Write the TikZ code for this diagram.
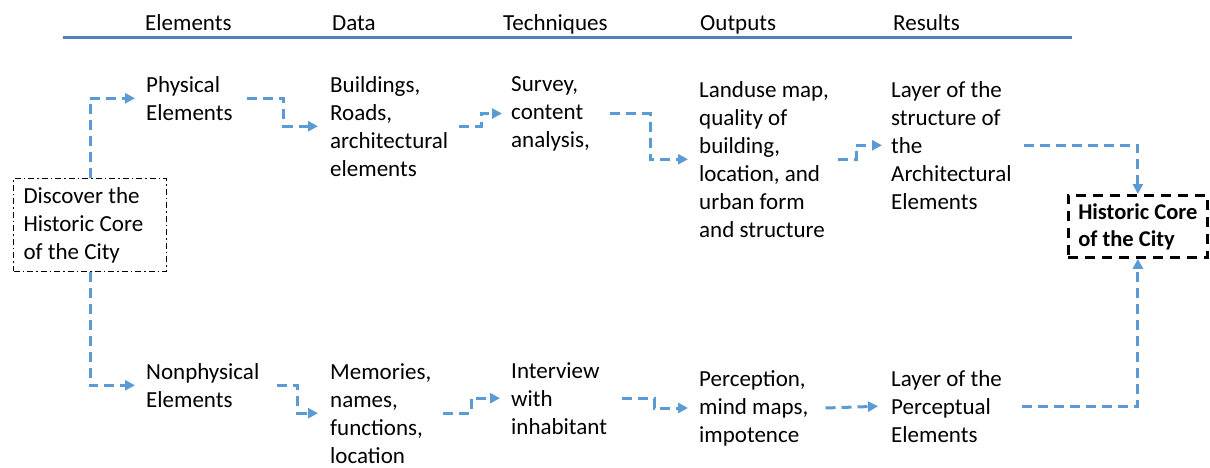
\documentclass[tikz,border=0pt]{standalone}
\usepackage{fontspec}
\setmainfont{Carlito}
\usepackage{xcolor}
\usetikzlibrary{positioning,calc,arrows.meta}
\definecolor{flowblue}{RGB}{91,155,213}
\definecolor{headblue}{RGB}{79,129,189}

\begin{document}
\begin{tikzpicture}[x=1pt,y=-1pt,
    every node/.style={font=\fontsize{23pt}{28pt}\selectfont, inner sep=0pt, align=left, anchor=north west},
    txt/.style={execute at begin node={\rule{0pt}{17pt}}},
    head/.style={anchor=base west},
    flow/.style={flowblue, line width=3pt, dash pattern=on 10pt off 6pt, -{Triangle[length=10pt,width=10pt]}}]
        \useasboundingbox (0,0) rectangle (1210,468);

        % Header
        \node[head] (helem) at (145,31) {Elements};
        \node[head] (hdata) at (332,31) {Data};
        \node[head] (htech) at (503,31) {Techniques};
        \node[head] (hout) at (700,31) {Outputs};
        \node[head] (hres) at (893,31) {Results};
        \coordinate (lineA) at (63,38);
        \coordinate (lineB) at (1072,38);
        \draw[headblue, line width=3pt] (lineA) -- (lineB);

        % Start and goal
        \node[txt, draw, line width=1pt, dash pattern=on 6pt off 3pt on 1.5pt off 3pt,
              inner xsep=10pt, inner ysep=8pt, text width=133pt, align=flush left] (disc) at (13,178)
              {Discover the\\Historic Core\\of the City};
        \node[txt, draw, line width=2.5pt, dash pattern=on 10pt off 7pt,
              inner xsep=10pt, inner ysep=8pt, font=\fontsize{22.5pt}{27pt}\selectfont\bfseries] (hist) at (1067,194)
              {Historic Core\\of the City};

        % Physical row
        \node[txt] (phys) at (146,76) {Physical\\Elements};
        \node[txt] (build) at (330,76) {Buildings,\\Roads,\\architectural\\elements};
        \node[txt] (surv) at (511,76) {Survey,\\content\\analysis,};
        \node[txt] (land) at (699,81) {Landuse map,\\quality of\\building,\\location, and\\urban form\\and structure};
        \node[txt] (layA) at (891,81) {Layer of the\\structure of\\the\\Architectural\\Elements};

        % Nonphysical row
        \node[txt] (nonphys) at (146,363) {Nonphysical\\Elements};
        \node[txt] (mem) at (330,363) {Memories,\\names,\\functions,\\location};
        \node[txt] (intv) at (511,362) {Interview\\with\\inhabitant};
        \node[txt] (perc) at (699,370) {Perception,\\mind maps,\\impotence};
        \node[txt] (layB) at (891,370) {Layer of the\\Perceptual\\Elements};

        % Arrows
        \draw[flow] (disc.north) |- ([xshift=-11pt]phys.west);
        \draw[flow] (disc.south) |- ([xshift=-11pt]nonphys.west);
        \draw[flow] ([xshift=14pt]phys.east) -- ++(37,0) |- ([xshift=-12pt]build.west);
        \draw[flow] ([xshift=11pt]build.east) -- ++(22,0) |- ([xshift=-9pt]surv.west);
        \draw[flow] ([xshift=20pt]surv.east) -- ++(40,0) |- ([xshift=-11pt]land.west);
        \draw[flow] ([xshift=9pt]land.east) -- ++(18,0) |- ([xshift=-9pt]layA.west);
        \draw[flow] ([xshift=12pt]layA.east) -| (hist.north);
        \draw[flow] ([xshift=17pt]nonphys.east) -- ++(21,0) |- ([xshift=-12pt]mem.west);
        \draw[flow] ([xshift=12pt]mem.east) -- ++(28,0) |- ([xshift=-11pt]intv.west);
        \draw[flow] ([xshift=15pt]intv.east) -- ++(32,0) |- ([xshift=-11pt]perc.west);
        \draw[flow] ([xshift=17pt]perc.east) -- ([xshift=-13pt]layB.west);
        \draw[flow] ([xshift=20pt]layB.east) -| (hist.south);
    \end{tikzpicture}
\end{document}
